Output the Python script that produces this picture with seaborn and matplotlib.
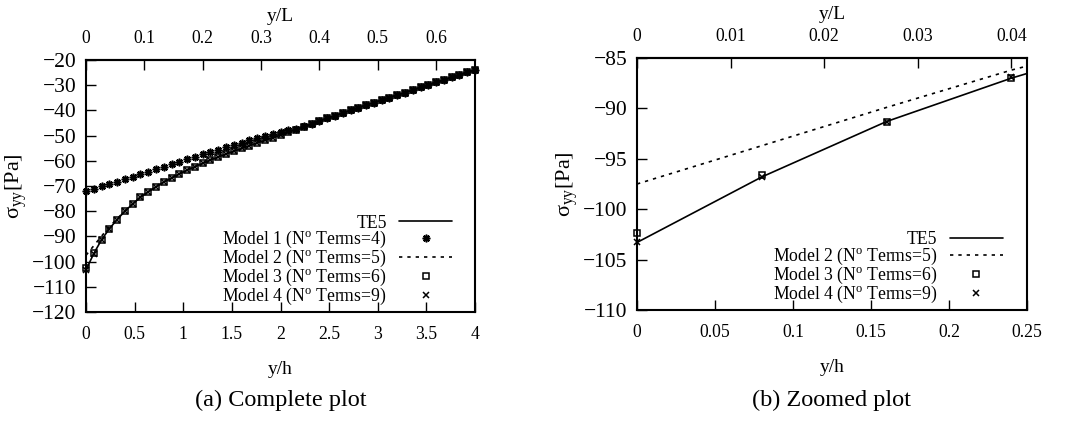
import numpy as np
import matplotlib
matplotlib.use("Agg")
import matplotlib.pyplot as plt
from matplotlib.ticker import FuncFormatter, FixedLocator
from matplotlib.lines import Line2D
import seaborn as sns

# ---------------- data ----------------
y_h = [0.00, 0.08, 0.16, 0.24, 0.32, 0.40, 0.48, 0.56, 0.64, 0.72,
       0.80, 0.88, 0.96, 1.04, 1.12, 1.20, 1.28, 1.36, 1.44, 1.52,
       1.60, 1.68, 1.76, 1.84, 1.92, 2.00, 2.08, 2.16, 2.24, 2.32,
       2.40, 2.48, 2.56, 2.64, 2.72, 2.80, 2.88, 2.96, 3.04, 3.12,
       3.20, 3.28, 3.36, 3.44, 3.52, 3.60, 3.68, 3.76, 3.84, 3.92, 4.00]

te5 = [-103.3, -96.8, -91.3, -87.0, -83.3, -80.0, -77.1, -74.5, -72.3, -70.3,
       -68.4, -66.8, -65.2, -63.7, -62.3, -61.0, -59.7, -58.5, -57.3, -56.2,
       -55.1, -54.0, -52.9, -51.9, -50.8, -49.8, -48.7, -47.6, -46.5, -45.4,
       -44.3, -43.2, -42.1, -41.0, -40.0, -38.9, -37.9, -36.9, -35.9, -34.9,
       -33.9, -32.9, -31.9, -30.9, -29.9, -28.9, -27.9, -26.9, -25.9, -24.9, -24.0]

model1 = [-71.8, -71.0, -70.1, -69.3, -68.3, -67.3, -66.3, -65.3, -64.4, -63.4,
          -62.4, -61.4, -60.4, -59.4, -58.4, -57.4, -56.5, -55.6, -54.6, -53.7,
          -52.8, -51.9, -51.0, -50.1, -49.3, -48.4, -47.9, -47.2, -46.3, -45.3,
          -44.3, -43.2, -42.1, -41.0, -40.0, -38.9, -37.9, -36.9, -35.9, -34.9,
          -33.9, -32.9, -31.9, -30.9, -29.9, -28.9, -27.9, -26.9, -25.9, -24.9, -24.0]

model2 = [-97.5, -93.7, -89.9, -86.2, -83.0, -79.9, -77.1, -74.5, -72.3, -70.3,
          -68.4, -66.8, -65.2, -63.7, -62.3, -61.0, -59.7, -58.5, -57.3, -56.2,
          -55.1, -54.0, -52.9, -51.9, -50.8, -49.8, -48.7, -47.6, -46.5, -45.4,
          -44.3, -43.2, -42.1, -41.0, -40.0, -38.9, -37.9, -36.9, -35.9, -34.9,
          -33.9, -32.9, -31.9, -30.9, -29.9, -28.9, -27.9, -26.9, -25.9, -24.9, -24.0]

model3 = [-102.4, -96.6, -91.3, -87.0, -83.3, -80.0, -77.1, -74.5, -72.3, -70.3,
          -68.4, -66.8, -65.2, -63.7, -62.3, -61.0, -59.7, -58.5, -57.3, -56.2,
          -55.1, -54.0, -52.9, -51.9, -50.8, -49.8, -48.7, -47.6, -46.5, -45.4,
          -44.3, -43.2, -42.1, -41.0, -40.0, -38.9, -37.9, -36.9, -35.9, -34.9,
          -33.9, -32.9, -31.9, -30.9, -29.9, -28.9, -27.9, -26.9, -25.9, -24.9, -24.0]

model4 = [-103.3, -96.8, -91.3, -86.9, -83.3, -80.0, -77.1, -74.5, -72.3, -70.3,
          -68.4, -66.8, -65.2, -63.7, -62.3, -61.0, -59.7, -58.5, -57.3, -56.2,
          -55.1, -54.0, -52.9, -51.9, -50.8, -49.8, -48.7, -47.6, -46.5, -45.4,
          -44.3, -43.2, -42.1, -41.0, -40.0, -38.9, -37.9, -36.9, -35.9, -34.9,
          -33.9, -32.9, -31.9, -30.9, -29.9, -28.9, -27.9, -26.9, -25.9, -24.9, -24.0]

L_over_h = 6.0

labels = ["TE5",
          r"Model 1 (N$^{\mathrm{o}}$ Terms=4)",
          r"Model 2 (N$^{\mathrm{o}}$ Terms=5)",
          r"Model 3 (N$^{\mathrm{o}}$ Terms=6)",
          r"Model 4 (N$^{\mathrm{o}}$ Terms=9)"]

left_xticks = [0, 0.5, 1, 1.5, 2, 2.5, 3, 3.5, 4]
left_yticks = [-120, -110, -100, -90, -80, -70, -60, -50, -40, -30, -20]
left_topticks = [0, 0.1, 0.2, 0.3, 0.4, 0.5, 0.6]
right_xticks = [0, 0.05, 0.1, 0.15, 0.2, 0.25]
right_yticks = [-110, -105, -100, -95, -90, -85]
right_topticks = [0, 0.01, 0.02, 0.03, 0.04]

# ---------------- style ----------------
sns.set_theme(style="white")
plt.rcParams["font.family"] = ["Liberation Serif", "DejaVu Serif"]
plt.rcParams["mathtext.fontset"] = "custom"
plt.rcParams["mathtext.rm"] = "Liberation Serif"
plt.rcParams["mathtext.it"] = "Liberation Serif:italic"
plt.rcParams["axes.unicode_minus"] = True
for k in ["text.color", "axes.labelcolor", "xtick.color", "ytick.color",
          "axes.edgecolor"]:
    plt.rcParams[k] = "black"

FS = 12.7      # x tick labels / legend
FSY = 15.5     # y tick labels
fmt = FuncFormatter(lambda v, p: ("%g" % v).replace("-", "\u2212"))

fig = plt.figure(figsize=(10.68, 4.23), dpi=100)
axL = fig.add_axes([86 / 1068, 1 - 312 / 423, 389 / 1068, 252 / 423])
axR = fig.add_axes([637 / 1068, 1 - 310 / 423, 390 / 1068, 252 / 423])

x_arr = np.array(y_h)


def style_axes(ax, xlim, ylim, xt, yt, tt):
    ax.set_xlim(*xlim)
    ax.set_ylim(*ylim)
    ax.set_xticks(xt)
    ax.set_yticks(yt)
    ax.xaxis.set_major_formatter(fmt)
    ax.yaxis.set_major_formatter(fmt)
    ax.tick_params(axis="both", which="both", direction="in", length=7, width=1,
                   colors="black", top=False, right=False,
                   left=True, bottom=True)
    ax.tick_params(axis="x", labelsize=FS, pad=10)
    ax.tick_params(axis="y", labelsize=FSY, pad=7)
    for s in ax.spines.values():
        s.set_color("black")
        s.set_linewidth(1.5)
        s.set_visible(True)
    sec = ax.secondary_xaxis("top", functions=(lambda v: v / L_over_h,
                                                 lambda v: v * L_over_h))
    sec.xaxis.set_major_locator(FixedLocator(tt))
    sec.xaxis.set_major_formatter(fmt)
    sec.tick_params(direction="in", length=7, width=1, labelsize=FS, pad=9,
                    colors="black")
    sec.spines["top"].set_linewidth(1.5)
    sec.set_xlabel("y/L", fontsize=14, labelpad=7)
    ax.set_xlabel("y/h", fontsize=14, labelpad=13)
    ax.set_ylabel("\u03c3$_{\\mathrm{yy}}$[Pa]", fontsize=16, labelpad=2)
    ax.grid(False)


# ---- left panel ----
sns.lineplot(x=y_h, y=te5, ax=axL, color="black", lw=1.2, errorbar=None,
             sort=False, legend=False)
sns.lineplot(x=y_h, y=model1, ax=axL, color="black", errorbar=None, sort=False,
             linestyle="", marker=(8, 2, 0), markersize=5.5, markeredgewidth=1.2,
             markeredgecolor="black", clip_on=False, legend=False)
sns.lineplot(x=y_h, y=model2, ax=axL, color="black", lw=1.2, errorbar=None,
             sort=False, legend=False)
axL.lines[-1].set_dashes((2, 3))
sns.lineplot(x=y_h, y=model3, ax=axL, color="black", errorbar=None, sort=False,
             linestyle="", marker="s", markersize=5, markerfacecolor="none",
             markeredgecolor="black", markeredgewidth=1.1, clip_on=False, legend=False)
sns.lineplot(x=y_h, y=model4, ax=axL, color="black", errorbar=None, sort=False,
             linestyle="", marker="x", markersize=4.5, markeredgewidth=1.1,
             markeredgecolor="black", clip_on=False, legend=False)
style_axes(axL, (0, 4), (-120, -20), left_xticks, left_yticks, left_topticks)

h_te5 = Line2D([], [], color="black", lw=1.2)
h_m1 = Line2D([], [], color="black", ls="", marker=(8, 2, 0), ms=5.5, mew=1.2)
h_m2 = Line2D([], [], color="black", lw=1.2, dashes=(2, 3))
h_m3 = Line2D([], [], color="black", ls="", marker="s", ms=5, mfc="none", mew=1.1)
h_m4 = Line2D([], [], color="black", ls="", marker="x", ms=4.5, mew=1.1)


def add_legend(ax, handles, labs, anchor):
    leg = ax.legend(handles, labs, loc="lower right", bbox_to_anchor=anchor,
                    frameon=False, markerfirst=False, fontsize=FS,
                    handlelength=3.0, handletextpad=0.7, labelspacing=-0.13,
                    borderpad=0, borderaxespad=0)
    for col in leg._legend_handle_box.get_children():
        col.align = "right"
    for t in leg.get_texts():
        t.set_color("black")
    return leg


add_legend(axL, [h_te5, h_m1, h_m2, h_m3, h_m4], labels, (0.941, 0.02))

# ---- right panel ----
mask = x_arr <= 0.25 + 1e-9
xs = list(x_arr[mask])
sns.lineplot(x=y_h, y=te5, ax=axR, color="black", lw=1.2, errorbar=None,
             sort=False, legend=False)
sns.lineplot(x=y_h, y=model2, ax=axR, color="black", lw=1.2, errorbar=None,
             sort=False, legend=False)
axR.lines[-1].set_dashes((2, 3))
sns.lineplot(x=xs, y=list(np.array(model3)[mask]), ax=axR, color="black",
             errorbar=None, sort=False, linestyle="", marker="s", markersize=5,
             markerfacecolor="none", markeredgecolor="black", markeredgewidth=1.1,
             clip_on=False, legend=False)
sns.lineplot(x=xs, y=list(np.array(model4)[mask]), ax=axR, color="black",
             errorbar=None, sort=False, linestyle="", marker="x", markersize=4.5,
             markeredgewidth=1.1, markeredgecolor="black", clip_on=False, legend=False)
style_axes(axR, (0, 0.25), (-110, -85), right_xticks, right_yticks, right_topticks)
add_legend(axR, [h_te5, h_m2, h_m3, h_m4], [labels[0]] + labels[2:], (0.938, 0.02))

# captions
fig.text((86 + 475) / 2 / 1068, 1 - 400 / 423, "(a) Complete plot", ha="center",
         va="center", fontsize=17.5)
fig.text((637 + 1027) / 2 / 1068, 1 - 400 / 423, "(b) Zoomed plot", ha="center",
         va="center", fontsize=17.5)

fig.savefig("out.png", dpi=100, facecolor="white")
